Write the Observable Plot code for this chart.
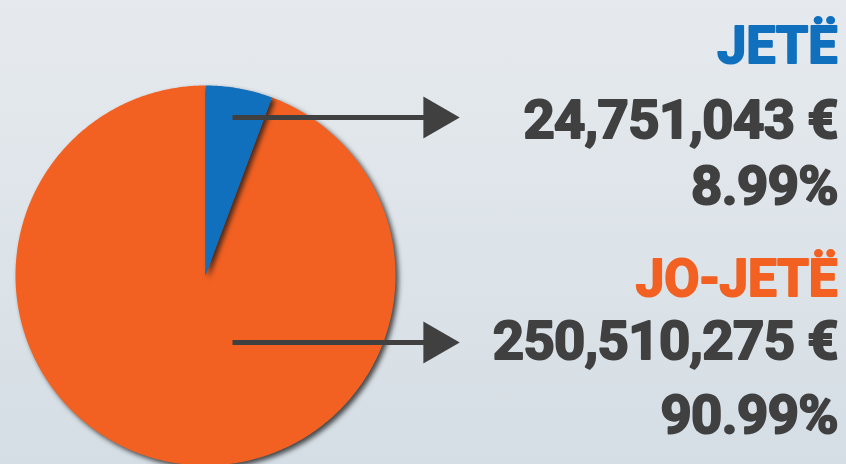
<!DOCTYPE html>
<html>
<head>
<meta charset="utf-8">
<script src="https://cdn.jsdelivr.net/npm/d3@7"></script>
<script src="https://cdn.jsdelivr.net/npm/@observablehq/plot@0.6"></script>
<style>
  html, body { margin: 0; padding: 0; }
  body {
    width: 846px; height: 464px; overflow: hidden;
    background: linear-gradient(180deg, #e6eaee 0%, #d5dee5 100%);
  }
  #chart svg { display: block; background: transparent; }
  g[aria-label="line"] path { filter: drop-shadow(3px 3px 2.5px rgba(20,20,20,0.75)); }
  g[aria-label="text"] text.num { letter-spacing: -0.6px; }
</style>
</head>
<body>
<div id="chart"></div>
<script>
// ---- data ----
const categories = ["JETË", "JO-JETË"];
const amounts = [24751043, 250510275];          // €
const percents = [8.99, 90.99];                 // %
const drawnShares = [5.7, 94.3];                // slice sizes as drawn in the picture (%)
const colors = ["#1170bd", "#f26122"];

// ---- build slice outlines (unit circle, clockwise from 12 o'clock) ----
const slices = [];
let start = 0;
categories.forEach((c, i) => {
  const a0 = start / 100 * 2 * Math.PI;
  const a1 = (start + drawnShares[i]) / 100 * 2 * Math.PI;
  const steps = Math.max(8, Math.ceil((a1 - a0) / 0.01));
  const pts = [{x: 0, y: 0}];
  for (let k = 0; k <= steps; k++) {
    const a = a0 + (a1 - a0) * k / steps;
    pts.push({x: Math.sin(a), y: Math.cos(a)});
  }
  slices.push({cat: c, color: colors[i], pts});
  start += drawnShares[i];
});
// draw the large slice first so the small one sits on top
const drawOrder = [1, 0];

// arrows: from inside each slice to the labels
const arrowY = [0.832, -0.353];
const arrows = categories.map((c, i) => ({cat: c, x1: 0.142, x2: 1.18, y: arrowY[i], tip: 1.2105}));

const fmtAmt = v => d3.format(",")(v) + " €";
const fmtPct = v => v.toFixed(2) + "%";

const textLines = [
  {t: categories[0], c: colors[0], dy: 62, fs: 52, num: false},
  {t: fmtAmt(amounts[0]), c: "#404040", dy: 137, fs: 54.5, num: true},
  {t: fmtPct(percents[0]), c: "#404040", dy: 203, fs: 54.5, num: true},
  {t: categories[1], c: colors[1], dy: 295, fs: 51, num: false},
  {t: fmtAmt(amounts[1]), c: "#404040", dy: 358, fs: 54.5, num: true},
  {t: fmtPct(percents[1]), c: "#404040", dy: 432, fs: 54.5, num: true},
];

const plot = Plot.plot({
  width: 846,
  height: 464,
  margin: 0,
  style: {background: "transparent", fontFamily: "Roboto, 'Liberation Sans', sans-serif"},
  x: {domain: [-1, 1], range: [15, 395], axis: null},
  y: {domain: [-1, 1], range: [465, 85], axis: null},
  marks: [
    ...drawOrder.map(i => Plot.line(slices[i].pts, {x: "x", y: "y", fill: slices[i].color, stroke: "none", curve: "linear-closed"})),
    Plot.link(arrows, {x1: "x1", x2: "x2", y1: "y", y2: "y", stroke: "#404040", strokeWidth: 5, strokeLinecap: "butt"}),
    Plot.dot(arrows, {x: "tip", y: "y", symbol: "triangle", r: 15.6, rotate: 90, fill: "#404040", stroke: "none"}),
    ...textLines.map(l => Plot.text([l.t], {
      text: d => d, frameAnchor: "top-right", dx: l.num ? -8.5 : -9, dy: l.dy, lineAnchor: "bottom",
      textAnchor: "end", fill: l.c, stroke: l.c, strokeWidth: 2, strokeLinejoin: "round",
      fontSize: l.fs, fontWeight: 700
    }))
  ]
});
// tag numeric lines for tighter tracking
const texts = plot.querySelectorAll('g[aria-label="text"] text');
texts.forEach((el, i) => { if (textLines[i] && textLines[i].num) el.classList.add("num"); });
document.getElementById("chart").appendChild(plot);
</script>
</body>
</html>
